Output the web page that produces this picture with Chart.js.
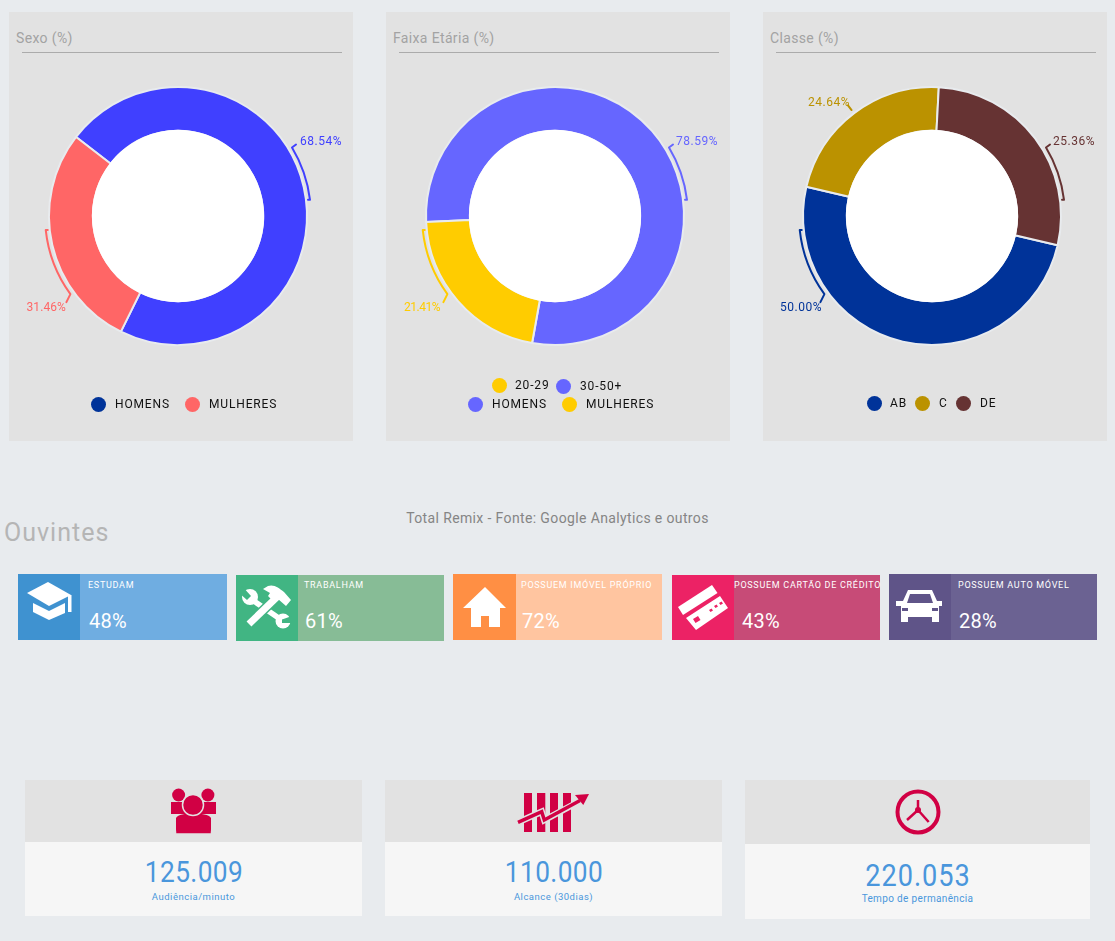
<!DOCTYPE html>
<html lang="pt"><head><meta charset="utf-8">
<script src="https://cdn.jsdelivr.net/npm/chart.js@4"></script>
<style>
html,body{margin:0;padding:0;background:#E8EBEE;}
#page{position:relative;width:1115px;height:941px;overflow:hidden;font-family:Roboto,sans-serif;}
#page div,#page span,#page svg,#page canvas{position:absolute;}
.t{white-space:nowrap;line-height:1;}
</style></head><body><div id="page"></div>
<script>
// ---- data ----
const panelTitles = ['Sexo (%)','Faixa Etária (%)','Classe (%)'];
const sexoCategories = ['HOMENS','MULHERES'];
const sexoArcShares = [71.8,28.2];
const sexoLabels = ['68.54%','31.46%'];
const idadeCategories = ['30-50+','20-29'];
const idadeArcShares = [78.59,21.41];
const idadeLabels = ['78.59%','21.41%'];
const classeCategories = ['AB','C','DE'];
const classeArcShares = [50,22.2,27.8];
const classeLabels = ['50.00%','24.64%','25.36%'];
const idadeLegend = ['20-29','30-50+','HOMENS','MULHERES'];
const tileTitles = ['ESTUDAM','TRABALHAM','POSSUEM IMÓVEL PRÓPRIO','POSSUEM CARTÃO DE CRÉDITO','POSSUEM AUTO MÓVEL'];
const tileValues = ['48%','61%','72%','43%','28%'];
const kpiValues = ['125.009','110.000','220.053'];
const kpiLabels = ['Audiência/minuto','Alcance (30dias)','Tempo de permanência'];
const sectionTitle = 'Ouvintes';
const sourceNote = 'Total Remix - Fonte: Google Analytics e outros';

// ---- helpers ----
const page = document.getElementById('page');
function box(x,y,w,h,bg){const d=document.createElement('div');d.style.cssText=`left:${x}px;top:${y}px;width:${w}px;height:${h}px;background:${bg}`;page.appendChild(d);return d;}
function text(s,x,cy,size,color,opt={}){const d=document.createElement('span');d.className='t';d.textContent=s;
 const anchor=(opt.center?'translate(-50%,-50%)':'translateY(-50%)')+(opt.sx?` scaleX(${opt.sx})`:'');
 d.style.cssText=`left:${x}px;top:${cy}px;font-size:${size}px;color:${color};letter-spacing:${opt.ls||0}px;font-weight:${opt.w||400};transform:${anchor}`;page.appendChild(d);return d;}
function svg(x,y,w,h,inner){const n=document.createElement('div');n.style.cssText=`left:${x}px;top:${y}px;width:${w}px;height:${h}px`;
 n.innerHTML=`<svg width="${w}" height="${h}" viewBox="0 0 ${w} ${h}" style="left:0;top:0">${inner}</svg>`;page.appendChild(n);}

// ---- panels ----
const panelX=[9,386,763], PANEL_W=344, PANEL_H=429, PANEL_Y=12;
panelX.forEach((x,i)=>{
  box(x,PANEL_Y,PANEL_W,PANEL_H,'#E2E2E2');
  text(panelTitles[i],x+7,38,14,'#A3A3A3',{ls:.35});
  box(x+13,52,320,1,'#ABABAB');
});

const leaderPlugin={id:'leaders',afterDatasetsDraw(c,_,o){
  const a=c.getDatasetMeta(0).data[0],g=c.ctx,R=a.outerRadius+4;
  g.save();g.beginPath();g.arc(a.x,a.y,a.innerRadius+1,0,Math.PI*2);g.fillStyle='#fff';g.fill();g.restore();
  const pt=(deg,r)=>{const t=(deg-90)*Math.PI/180;return [a.x+r*Math.cos(t),a.y+r*Math.sin(t)];};
  g.save();g.lineWidth=2;g.lineCap='round';g.lineJoin='round';
  (o.items||[]).forEach(it=>{
    g.strokeStyle=it.color;g.beginPath();
    if(it.tick){const p=pt(it.tick,R+0),q=pt(it.tick,R+6);g.moveTo(p[0],p[1]);g.lineTo(q[0],q[1]);}
    else{
      const p=pt(it.from,R),q=pt(it.to,R);
      const side=it.from<180?1:-1;
      if(side>0){g.moveTo(p[0]+4,p[1]-3);g.lineTo(p[0],p[1]);
        g.arc(a.x,a.y,R,(it.from-90)*Math.PI/180,(it.to-90)*Math.PI/180,false);g.lineTo(q[0]-2,q[1]);}
      else{g.moveTo(p[0]+2,p[1]);g.lineTo(p[0],p[1]);
        g.arc(a.x,a.y,R,(it.from-90)*Math.PI/180,(it.to-90)*Math.PI/180,true);g.lineTo(q[0]-4,q[1]+8);}
    }
    g.stroke();
    g.fillStyle=it.color;g.font='12px Roboto';g.letterSpacing=(it.ls??0.5)+'px';g.textBaseline='middle';g.textAlign=it.dx<0?'right':'left';
    g.fillText(it.text,a.x+it.dx,a.y+it.dy);
  });
  g.restore();
}};
function donut(panelIndex,categories,values,colors,rotation,items){
  const cv=document.createElement('canvas');cv.width=PANEL_W;cv.height=PANEL_H;
  cv.style.cssText=`left:${panelX[panelIndex]}px;top:${PANEL_Y}px`;page.appendChild(cv);
  new Chart(cv,{type:'doughnut',plugins:[leaderPlugin],data:{labels:categories,datasets:[{data:values,backgroundColor:colors,borderColor:'#E8EBEE',borderWidth:2,hoverOffset:0}]},
    options:{responsive:false,animation:false,devicePixelRatio:1,rotation,cutout:'66%',
      layout:{padding:{left:39,right:45,top:74,bottom:95}},
      plugins:{legend:{display:false},tooltip:{enabled:false},leaders:{items}}}});
}
const C={sexoA:'#4040FF',sexoB:'#FF6666',idA:'#6666FF',idB:'#FFCC00',ab:'#003399',c:'#BB9200',de:'#663333'};
donut(0,sexoCategories,sexoArcShares,[C.sexoA,C.sexoB],-52.2,[
  {color:C.sexoA,text:sexoLabels[0],from:59,to:83,dx:122,dy:-74},
  {color:C.sexoB,text:sexoLabels[1],from:264,to:234,dx:-112,dy:92,ls:0.1}]);
donut(1,idadeCategories,idadeArcShares,[C.idA,C.idB],-92.7,[
  {color:C.idA,text:idadeLabels[0],from:59,to:83,dx:121,dy:-74},
  {color:C.idB,text:idadeLabels[1],from:264,to:234,dx:-115,dy:92,ls:-0.5}]);
donut(2,classeCategories,classeArcShares,[C.ab,C.c,C.de],103.1,[
  {color:C.ab,text:classeLabels[0],from:264,to:234,dx:-110,dy:92},
  {color:C.c,text:classeLabels[1],tick:322.8,dx:-82,dy:-113},
  {color:C.de,text:classeLabels[2],from:59,to:83,dx:121,dy:-74}]);

// ---- legends ----
function legend(cx,cy,tx,label,color){
  const d=box(cx-7.5,cy-7.5,15,15,color);d.style.borderRadius='50%';
  text(label,tx,cy,12,'#111',{ls:.85});
}
legend(98,404,115,sexoCategories[0],'#003399');
legend(192,404,209,sexoCategories[1],'#FF6666');
legend(499,385,515,idadeLegend[0],'#FFCC00');
legend(563,386,580,idadeLegend[1],'#6666FF');
legend(475,404,492,idadeLegend[2],'#6666FF');
legend(569,404,586,idadeLegend[3],'#FFCC00');
legend(874,403,890,classeCategories[0],'#003399');
legend(922,403,939,classeCategories[1],'#BB9200');
legend(963,403,980,classeCategories[2],'#663333');

// ---- headings ----
text(sectionTitle,4,532,25,'#B5B5B5',{ls:1});
text(sourceNote,557.5,518,14,'#858585',{center:true,ls:.37});

// ---- tiles ----
const w='#fff', g2='#41B583';
const tileIcons=[
 `<path fill="${w}" d="M9 19 30 8 53 21 31 32Z"/><path fill="${w}" d="M50 21h3.5v17H50Z"/><path fill="${w}" d="M15 29 31 37 47 29V39L31 46 15 38Z"/>`,
 `<path d="M15 24 47 46" stroke="${w}" stroke-width="5.500" fill="none"/>
  <circle cx="14" cy="22" r="8" fill="${w}"/><path d="M6 11 15 21 11 25 2 17Z" fill="${g2}"/>
  <circle cx="47" cy="46" r="7.500" fill="${w}"/><path d="M46 44.500 56 41 56 48 46 48Z" fill="${g2}"/>
  <path d="M13 49 41 22" stroke="${g2}" stroke-width="10" fill="none"/>
  <path d="M13 49 41 22" stroke="${w}" stroke-width="7" fill="none"/>
  <path fill="${w}" d="M27 14 32 11C38 9 43 13 48 17L55 25 50 31 42 24 38 27 32 21 34 18Z"/>`,
 `<path fill="${w}" d="M32 13 53 34H47V53H36V42H28V53H18V34H10Z"/>`,
 `<path fill="${w}" d="M6 32 40 10 45.5 18 11 40Z"/><path fill="${w}" fill-rule="evenodd" d="M14 43 48 21 56 33 24 55ZM21 44l5-3 2.5 4-5 3ZM37 35l2.500-1.500 1.500 2-2.500 1.500ZM42 31l2.500-1.500 1.500 2-2.500 1.500ZM47 28l2.500-1.500 1.500 2-2.500 1.500Z"/>`,
 `<path fill="${w}" fill-rule="evenodd" d="M19 16H43L48 27H53V32H50V48H43V43H19V48H12V32H7V27H14ZM21 20 18 29H44L41 20ZM13 34V37H19V34ZM43 34V37H49V34Z"/>`
];
const tiles=[
 {x:18,y:574,h:66,w:209,iw:62,light:'#6FADE1',dark:'#3F92D0',tx:88,vx:89},
 {x:236,y:575,h:66,w:208,iw:62,light:'#87BC96',dark:'#41B583',tx:304,vx:305},
 {x:453,y:574,h:66,w:209,iw:63,light:'#FFC5A0',dark:'#FF8F44',tx:521,vx:522},
 {x:672,y:575,h:65,w:208,iw:62,light:'#C74B77',dark:'#EC2265',tx:734,vx:742},
 {x:889,y:574,h:66,w:208,iw:62,light:'#6B6292',dark:'#5F5488',tx:958,vx:959}];
tiles.forEach((t,i)=>{
  box(t.x,t.y,t.w,t.h,t.light);box(t.x,t.y,t.iw,t.h,t.dark);
  svg(t.x,t.y,t.iw,t.h,tileIcons[i]);
  text(tileTitles[i],t.tx,584.5,9,'#fff',{ls:.72});
  text(tileValues[i],t.vx,621,20,'#fff',{ls:.2});
});

// ---- KPI cards ----
const red='#D10044', gr='#E2E2E2';
const cards=[
 {x:25,w:337,y:780,gh:62,wh:74,vy:872,ly:897},
 {x:385,w:337,y:780,gh:62,wh:74,vy:872,ly:897},
 {x:745,w:345,y:780,gh:64,wh:75,vy:875,ly:899}];
const kpiIcons=[
 `<g fill="${red}"><circle cx="153.600" cy="15" r="6.500"/><circle cx="182.900" cy="15" r="6.500"/><path d="M146 22H191V34H146Z"/></g>
  <path fill="${red}" stroke="${gr}" stroke-width="1.500" d="M150.500 54V44C150.500 37 160 34 168 34S186.500 37 186.500 44V54Z"/>
  <path fill="${red}" d="M151 38C153 34.500 160 33.500 168 33.500S184 34.500 186 38V49C186 52 184 53 182 53H155C153 53 151 52 151 49Z"/>
  <circle cx="168" cy="25" r="10.500" fill="${red}" stroke="${gr}" stroke-width="1.500"/>`,
 `<g fill="${red}"><rect x="139" y="13" width="8" height="39"/><rect x="152" y="13" width="8.300" height="39"/><rect x="165" y="13" width="8" height="39"/><rect x="178" y="13" width="8" height="39"/></g><path fill="none" stroke="${gr}" stroke-width="6.500" d="M133 42.300 156.700 31.700 159.300 40 197 20"/><path fill="none" stroke="${red}" stroke-width="3.500" d="M133 42.300 156.700 31.700 159.300 40 195 20.500"/><path fill="${red}" d="M204 14 190 15 198.300 25Z"/>`,
 `<circle cx="173" cy="32" r="20.500" fill="none" stroke="${red}" stroke-width="4"/><g fill="none" stroke="${red}" stroke-width="2.500"><path d="M173 29.500V20"/><path d="M173 30 183.700 42"/><path d="M173 30 162 40"/></g><circle cx="173" cy="30" r="3" fill="${red}"/>`];
cards.forEach((c,i)=>{
  box(c.x,c.y,c.w,c.gh,'#E2E2E2');box(c.x,c.y+c.gh,c.w,c.wh,'#F6F6F6');
  svg(c.x,c.y,c.w,c.gh,kpiIcons[i]);
  text(kpiValues[i],c.x+c.w/2,c.vy,i==2?31:30,'#4A96DC',{center:true,ls:i==2?1.1:.5,sx:.875});
  text(kpiLabels[i],c.x+c.w/2,c.ly,i==2?10:9.500,'#4A96DC',{center:true,ls:i==2?.35:.5});
});
</script></body></html>
